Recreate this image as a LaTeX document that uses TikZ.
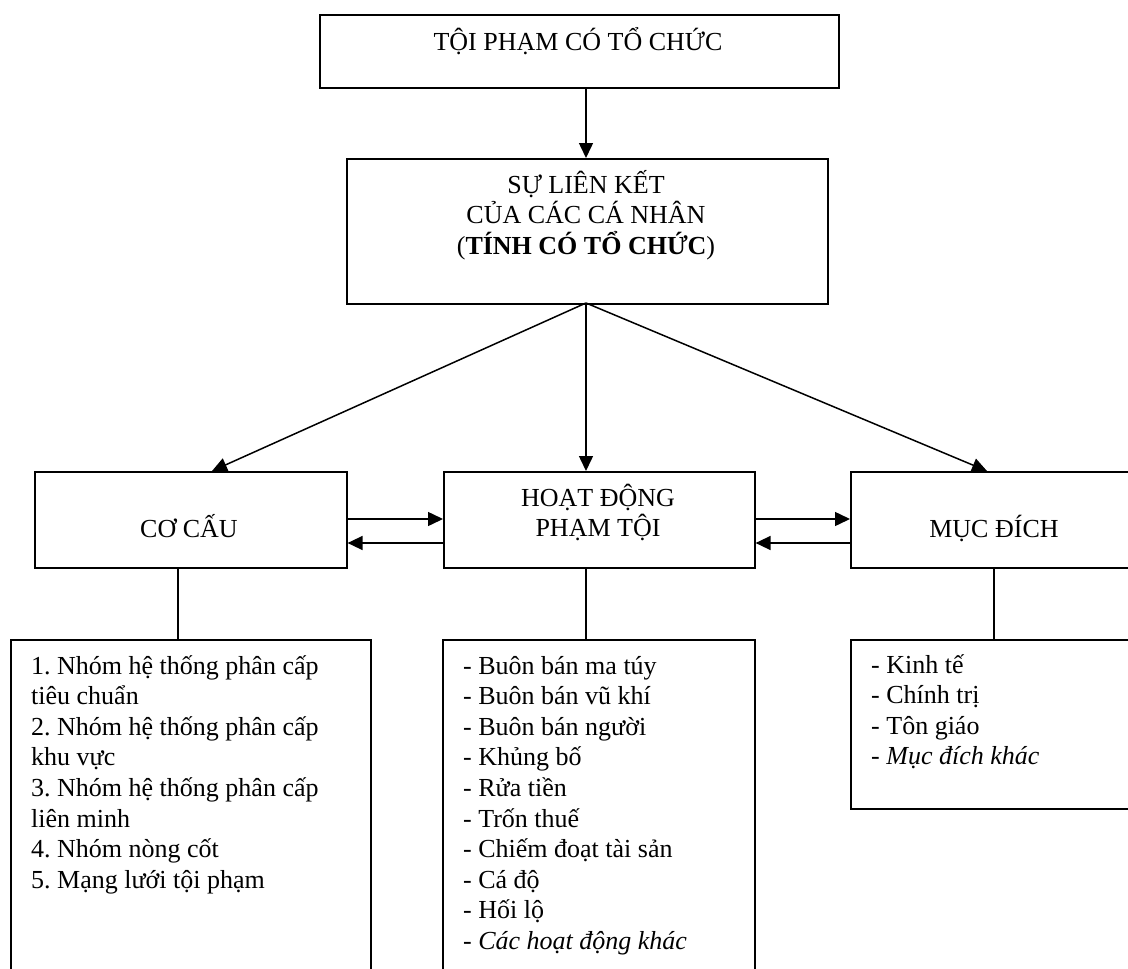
\documentclass[tikz,border=0pt]{standalone}
\usepackage{fontspec}
\setmainfont{Liberation Serif}
\usetikzlibrary{arrows.meta}
\tikzset{
  box/.style={draw, line width=1.6pt, rectangle, inner sep=0pt, anchor=north west},
  arr/.style={-{Triangle[length=15pt,width=14pt]}, line width=1.5pt},
  conn/.style={line width=1.3pt},
  txt/.style={inner sep=0pt, font=\fontsize{26}{30.6}\selectfont\frenchspacing},
}
\begin{document}
\begin{tikzpicture}[x=1pt, y=-1pt]
\useasboundingbox (0,0) rectangle (1128,969);
\clip (0,0) rectangle (1128,969);
\fill[white] (0,0) rectangle (1128,969);
% boxes
\node[box, minimum width=519pt, minimum height=73pt] (top) at (319,14) {};
\node[box, minimum width=481pt, minimum height=145pt] (sec) at (346,158) {};
\node[box, minimum width=312pt, minimum height=96pt] (cc) at (34,471) {};
\node[box, minimum width=311pt, minimum height=96pt] (hd) at (443,471) {};
\node[box, minimum width=300pt, minimum height=96pt] (md) at (850,471) {};
\node[box, minimum width=360pt, minimum height=360pt] (bl) at (10,639) {};
\node[box, minimum width=312pt, minimum height=360pt] (bm) at (442,639) {};
\node[box, minimum width=300pt, minimum height=169pt] (br) at (850,639) {};
% texts
\node[txt, anchor=base] (ttop) at (578,50) {TỘI PHẠM CÓ TỔ CHỨC};
\node[txt, anchor=base] (tsec) at (586,193) {\parbox[t]{460pt}{\centering SỰ LIÊN KẾT\\CỦA CÁC CÁ NHÂN\\(\textbf{TÍNH CÓ TỔ CHỨC})}};
\node[txt, anchor=base] (tcc) at (189,537) {CƠ CẤU};
\node[txt, anchor=base] (thd) at (598,506) {\parbox[t]{300pt}{\centering HOẠT ĐỘNG\\PHẠM TỘI}};
\node[txt, anchor=base] (tmd) at (994,537) {MỤC ĐÍCH};
\node[txt, anchor=base west] (tbl) at (31,674) {\parbox[t]{335pt}{\raggedright
1. Nhóm hệ thống phân cấp\\
tiêu chuẩn\\
2. Nhóm hệ thống phân cấp\\
khu vực\\
3. Nhóm hệ thống phân cấp\\
liên minh\\
4. Nhóm nòng cốt\\
5. Mạng lưới tội phạm}};
\node[txt, anchor=base west] (tbm) at (463,674) {\parbox[t]{285pt}{\raggedright
- Buôn bán ma túy\\
- Buôn bán vũ khí\\
- Buôn bán người\\
- Khủng bố\\
- Rửa tiền\\
- Trốn thuế\\
- Chiếm đoạt tài sản\\
- Cá độ\\
- Hối lộ\\
- \textit{Các hoạt động khác}}};
\node[txt, anchor=base west] (tbr) at (871,673) {\parbox[t]{250pt}{\raggedright
- Kinh tế\\
- Chính trị\\
- Tôn giáo\\
- \textit{Mục đích khác}}};
% connectors
\coordinate (o) at (586,303);
\coordinate (tipL) at (212,471);
\coordinate (tipM) at (586,471);
\coordinate (tipR) at (987,471);
\draw[arr] (top.south -| o) -- (sec.north -| o);
\draw[arr] (o) -- (tipL);
\draw[arr] (o) -- (tipM);
\draw[arr] (o) -- (tipR);
\coordinate (ya) at (0,519);
\coordinate (yb) at (0,543);
\draw[arr] (cc.east |- ya) -- (hd.west |- ya);
\draw[arr] (hd.west |- yb) -- (cc.east |- yb);
\draw[arr] (hd.east |- ya) -- (md.west |- ya);
\draw[arr] (md.west |- yb) -- (hd.east |- yb);
\coordinate (xl) at (178,0);
\coordinate (xm) at (586,0);
\coordinate (xr) at (994,0);
\draw[conn] (cc.south -| xl) -- (bl.north -| xl);
\draw[conn] (hd.south -| xm) -- (bm.north -| xm);
\draw[conn] (md.south -| xr) -- (br.north -| xr);
\end{tikzpicture}
\end{document}
